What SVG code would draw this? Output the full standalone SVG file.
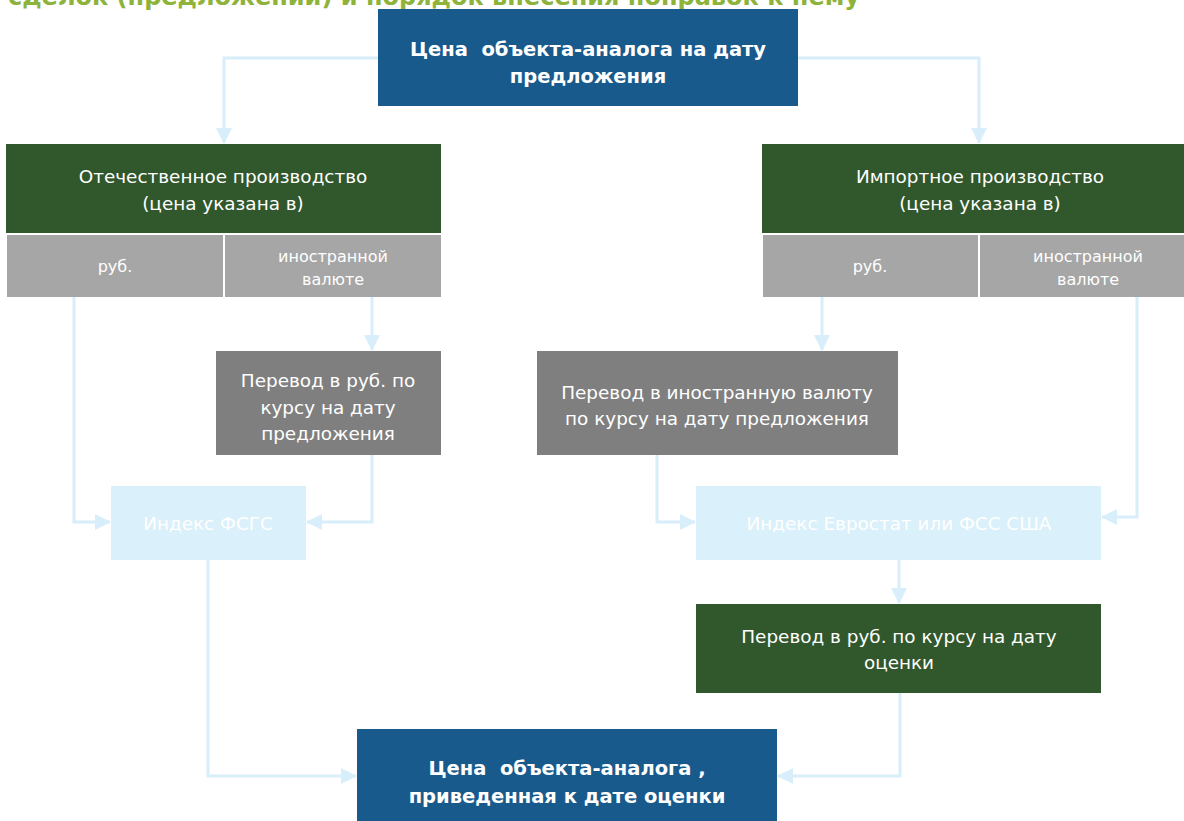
<svg xmlns="http://www.w3.org/2000/svg" width="1184" height="821" viewBox="0 0 1184 821">
<style>
text{font-family:"DejaVu Sans",Verdana,sans-serif;fill:#fff;text-anchor:middle}
.t{font-size:18.4px}
.b{font-size:19.5px;font-weight:bold;white-space:pre}
.s{font-size:16px}
.blue{fill:#195a8c}
.green{fill:#31572c}
.gray{fill:#a6a6a6}
.dgray{fill:#7f7f7f}
.lb{fill:#daf0fa}
.c{fill:none;stroke:#d8eefa;stroke-width:3}
.title{font-size:24px;font-weight:bold;fill:#8db33b;text-anchor:start}
</style>
<defs>
<marker id="ah" viewBox="0 0 16 16" refX="15" refY="8" markerWidth="16" markerHeight="16" markerUnits="userSpaceOnUse" orient="auto">
<path d="M0,0 L16,8 L0,16 Z" fill="#d8eefa"/>
</marker>
</defs>
<rect width="1184" height="821" fill="#fff"/>
<text class="title" x="8" y="5">сделок (предложений) и порядок внесения поправок к нему</text>

<g id="connectors">
<path class="c" d="M378,58 H224 V143" marker-end="url(#ah)"/>
<path class="c" d="M798,58 H979 V143" marker-end="url(#ah)"/>
<path class="c" d="M74,297 V522 H110" marker-end="url(#ah)"/>
<path class="c" d="M372,297 V350" marker-end="url(#ah)"/>
<path class="c" d="M372,455 V522 H307" marker-end="url(#ah)"/>
<path class="c" d="M822,291 V350" marker-end="url(#ah)"/>
<path class="c" d="M1137,284 V517 H1102" marker-end="url(#ah)"/>
<path class="c" d="M657,453 V522 H695" marker-end="url(#ah)"/>
<path class="c" d="M899,560 V603" marker-end="url(#ah)"/>
<path class="c" d="M208,560 V776 H356" marker-end="url(#ah)"/>
<path class="c" d="M900,693 V776 H778" marker-end="url(#ah)"/>
</g>

<g id="top">
<rect class="blue" x="378" y="9" width="420" height="97"/>
<text class="b" x="588" y="56" xml:space="preserve">Цена  объекта-аналога на дату</text>
<text class="b" x="588" y="83">предложения</text>
</g>

<g id="domestic">
<rect class="green" x="6" y="144" width="435" height="89"/>
<text class="t" x="223" y="183">Отечественное производство</text>
<text class="t" x="223" y="210">(цена указана в)</text>
</g>
<g id="dom-rub">
<rect class="gray" x="7" y="235" width="216" height="62"/>
<text class="s" x="115" y="272">руб.</text>
</g>
<g id="dom-fx">
<rect class="gray" x="225" y="235" width="216" height="62"/>
<text class="s" x="333" y="262">иностранной</text>
<text class="s" x="333" y="285">валюте</text>
</g>

<g id="import">
<rect class="green" x="762" y="144" width="436" height="89"/>
<text class="t" x="980" y="183">Импортное производство</text>
<text class="t" x="980" y="210">(цена указана в)</text>
</g>
<g id="imp-rub">
<rect class="gray" x="763" y="235" width="215" height="62"/>
<text class="s" x="870" y="272">руб.</text>
</g>
<g id="imp-fx">
<rect class="gray" x="980" y="235" width="216" height="62"/>
<text class="s" x="1088" y="262">иностранной</text>
<text class="s" x="1088" y="285">валюте</text>
</g>

<g id="conv-left">
<rect class="dgray" x="216" y="351" width="225" height="104"/>
<text class="t" x="328" y="387">Перевод в руб. по</text>
<text class="t" x="328" y="414">курсу на дату</text>
<text class="t" x="328" y="440">предложения</text>
</g>

<g id="conv-right">
<rect class="dgray" x="537" y="351" width="361" height="104"/>
<text class="t" x="717" y="399">Перевод в иностранную валюту</text>
<text class="t" x="717" y="425">по курсу на дату предложения</text>
</g>

<g id="fsgs">
<rect class="lb" x="111" y="486" width="195" height="74"/>
<text class="t" x="208" y="530">Индекс ФСГС</text>
</g>

<g id="eurostat">
<rect class="lb" x="696" y="486" width="405" height="74"/>
<text class="t" x="899" y="530">Индекс Евростат или ФСС США</text>
</g>

<g id="conv-final">
<rect class="green" x="696" y="604" width="405" height="89"/>
<text class="t" x="899" y="643">Перевод в руб. по курсу на дату</text>
<text class="t" x="899" y="669">оценки</text>
</g>

<g id="result">
<rect class="blue" x="357" y="729" width="420" height="92"/>
<text class="b" x="567" y="775" xml:space="preserve">Цена  объекта-аналога ,</text>
<text class="b" x="567" y="803">приведенная к дате оценки</text>
</g>
</svg>
